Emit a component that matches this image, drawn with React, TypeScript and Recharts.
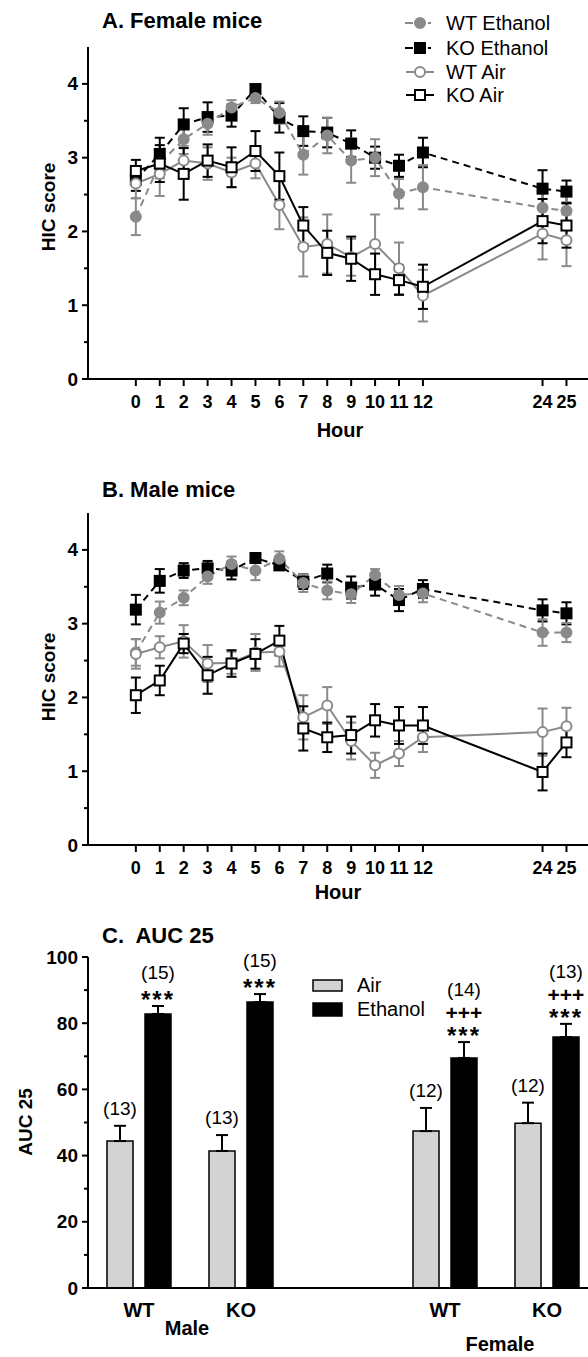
import React from "react";
import { Bar, BarChart, ErrorBar, LabelList, Line, LineChart, XAxis, YAxis } from "recharts";

const FONT = '"Liberation Sans", Arial, Helvetica, sans-serif';
const GRAY = "#8a8a8a";

// hours sampled
const hours = [0, 1, 2, 3, 4, 5, 6, 7, 8, 9, 10, 11, 12, 24, 25];

// A. Female mice
const femWtEth = [2.2, 2.92, 3.25, 3.46, 3.68, 3.81, 3.61, 3.04, 3.3, 2.96, 3.0, 2.51, 2.6, 2.32, 2.28];
const femWtEthErr = [0.25, 0.2, 0.2, 0.15, 0.1, 0.07, 0.15, 0.27, 0.24, 0.3, 0.25, 0.2, 0.3, 0.2, 0.2];
const femKoEth = [2.7, 3.05, 3.45, 3.55, 3.57, 3.93, 3.54, 3.36, 3.34, 3.19, 3.0, 2.89, 3.07, 2.58, 2.54];
const femKoEthErr = [0.15, 0.22, 0.22, 0.2, 0.15, 0.05, 0.2, 0.2, 0.2, 0.18, 0.15, 0.15, 0.2, 0.25, 0.15];
const femWtAir = [2.65, 2.78, 2.96, 2.92, 2.8, 2.92, 2.36, 1.79, 1.83, 1.65, 1.83, 1.5, 1.13, 1.97, 1.88];
const femWtAirErr = [0.2, 0.3, 0.2, 0.22, 0.2, 0.2, 0.33, 0.4, 0.4, 0.25, 0.4, 0.35, 0.35, 0.35, 0.35];
const femKoAir = [2.82, 2.92, 2.78, 2.96, 2.87, 3.09, 2.75, 2.08, 1.71, 1.63, 1.42, 1.34, 1.25, 2.14, 2.08];
const femKoAirErr = [0.15, 0.25, 0.35, 0.22, 0.27, 0.27, 0.32, 0.25, 0.3, 0.3, 0.28, 0.2, 0.3, 0.3, 0.3];

// B. Male mice
const maleWtEth = [2.61, 3.15, 3.35, 3.64, 3.81, 3.72, 3.88, 3.55, 3.45, 3.4, 3.66, 3.39, 3.41, 2.88, 2.88];
const maleWtEthErr = [0.18, 0.15, 0.1, 0.1, 0.1, 0.13, 0.1, 0.12, 0.12, 0.12, 0.08, 0.12, 0.12, 0.18, 0.13];
const maleKoEth = [3.19, 3.58, 3.72, 3.75, 3.72, 3.89, 3.79, 3.57, 3.68, 3.49, 3.53, 3.32, 3.47, 3.18, 3.14];
const maleKoEthErr = [0.2, 0.16, 0.1, 0.1, 0.12, 0.05, 0.05, 0.1, 0.12, 0.15, 0.15, 0.15, 0.12, 0.15, 0.15];
const maleWtAir = [2.59, 2.68, 2.76, 2.46, 2.47, 2.61, 2.62, 1.73, 1.89, 1.41, 1.08, 1.24, 1.46, 1.53, 1.61];
const maleWtAirErr = [0.2, 0.15, 0.22, 0.25, 0.15, 0.25, 0.2, 0.3, 0.25, 0.25, 0.17, 0.17, 0.2, 0.32, 0.25];
const maleKoAir = [2.03, 2.23, 2.73, 2.3, 2.46, 2.59, 2.77, 1.58, 1.46, 1.49, 1.69, 1.62, 1.62, 0.99, 1.39];
const maleKoAirErr = [0.24, 0.2, 0.13, 0.25, 0.18, 0.2, 0.2, 0.3, 0.2, 0.25, 0.22, 0.25, 0.25, 0.25, 0.2];

const hicTicks = [0, 0.5, 1, 1.5, 2, 2.5, 3, 3.5, 4];

// C. AUC 25
const aucGroups = ["Male WT", "Male KO", "", "Female WT", "Female KO"];
const aucGenotype = ["WT", "KO", "", "WT", "KO"];
const aucAir = [44.4, 41.4, null, 47.4, 49.8];
const aucAirErr = [4.6, 4.8, null, 7.0, 6.2];
const aucEth = [82.8, 86.4, null, 69.5, 75.8];
const aucEthErr = [2.4, 2.4, null, 4.8, 4.0];
const nAir = [13, 13, null, 12, 12];
const nEth = [15, 15, null, 14, 13];
const sigEth = [["***"], ["***"], [], ["***", "+++"], ["***", "+++"]];
const aucTicks = [0, 10, 20, 30, 40, 50, 60, 70, 80, 90, 100];

// the axis is broken after 12 h, so 24 and 25 sit 5 slots past 12
const axisPos = (h: number) => (h <= 12 ? h : h - 7);
const hourTicks = hours.map(axisPos);

function hicRows(wtEth, wtEthErr, koEth, koEthErr, wtAir, wtAirErr, koAir, koAirErr) {
  return hours.map((h, i) => ({
    pos: axisPos(h),
    wtEth: wtEth[i],
    wtEthErr: wtEthErr[i],
    koEth: koEth[i],
    koEthErr: koEthErr[i],
    wtAir: wtAir[i],
    wtAirErr: wtAirErr[i],
    koAir: koAir[i],
    koAirErr: koAirErr[i],
  }));
}

const femaleData = hicRows(femWtEth, femWtEthErr, femKoEth, femKoEthErr, femWtAir, femWtAirErr, femKoAir, femKoAirErr);
const maleData = hicRows(maleWtEth, maleWtEthErr, maleKoEth, maleKoEthErr, maleWtAir, maleWtAirErr, maleKoAir, maleKoAirErr);

const aucData = aucGroups.map((g, i) => ({
  group: g,
  air: aucAir[i],
  airErr: aucAirErr[i] == null ? null : [0, aucAirErr[i]],
  eth: aucEth[i],
  ethErr: aucEthErr[i] == null ? null : [0, aucEthErr[i]],
}));

const axisLine = { stroke: "#000", strokeWidth: 2 };

function HourTick({ x, y, payload }: any) {
  const i = hourTicks.indexOf(payload.value);
  return (
    <g>
      <line x1={x} x2={x} y1={y} y2={y + 7} stroke="#000" strokeWidth={2} />
      <text x={x} y={y + 23} textAnchor="middle" dominantBaseline="central" fontFamily={FONT} fontWeight="bold" fontSize={18} fill="#000">
        {hours[i]}
      </text>
    </g>
  );
}

function ValueTick({ x, y, payload, major }: any) {
  const isMajor = payload.value % major === 0;
  return (
    <g>
      <line x1={x - (isMajor ? 6 : 4)} x2={x} y1={y} y2={y} stroke="#000" strokeWidth={2} />
      {isMajor ? (
        <text x={x - 10} y={y} textAnchor="end" dominantBaseline="central" fontFamily={FONT} fontWeight="bold" fontSize={19} fill="#000">
          {payload.value}
        </text>
      ) : null}
    </g>
  );
}

const Square = ({ cx, cy, fill }: any) =>
  cx == null ? null : <rect x={cx - 5} y={cy - 5} width={10} height={10} fill={fill} stroke="#000" strokeWidth={2} />;
const Circle = ({ cx, cy, fill, stroke }: any) =>
  cx == null ? null : <circle cx={cx} cy={cy} r={5} fill={fill} stroke={stroke} strokeWidth={2} />;

function HicPanel({ data, top }: { data: any[]; top: number }) {
  return (
    <div style={{ position: "absolute", left: 0, top }}>
      <LineChart width={588} height={445} data={data} margin={{ top: 47, right: 0, bottom: 0, left: 0 }}>
        <XAxis
          type="number"
          dataKey="pos"
          domain={[-2, 18.9]}
          ticks={hourTicks}
          interval={0}
          height={66}
          tickSize={0}
          tickMargin={0}
          tickLine={false}
          tick={<HourTick />}
          axisLine={axisLine}
          allowDataOverflow
        />
        <YAxis
          type="number"
          domain={[0, 4.5]}
          ticks={hicTicks}
          interval={0}
          width={88}
          tickSize={0}
          tickMargin={0}
          tickLine={false}
          tick={<ValueTick major={1} />}
          axisLine={axisLine}
          allowDataOverflow
        />
        <Line dataKey="koEth" stroke="#000" strokeWidth={2} strokeDasharray="7 5" dot={<Square fill="#000" />} isAnimationActive={false}>
          <ErrorBar dataKey="koEthErr" direction="y" width={5} stroke="#000" strokeWidth={2} />
        </Line>
        <Line dataKey="wtEth" stroke={GRAY} strokeWidth={2} strokeDasharray="7 5" dot={<Circle fill={GRAY} stroke={GRAY} />} isAnimationActive={false}>
          <ErrorBar dataKey="wtEthErr" direction="y" width={5} stroke={GRAY} strokeWidth={2} />
        </Line>
        <Line dataKey="wtAir" stroke={GRAY} strokeWidth={2} dot={<Circle fill="#fff" stroke={GRAY} />} isAnimationActive={false}>
          <ErrorBar dataKey="wtAirErr" direction="y" width={5} stroke={GRAY} strokeWidth={2} />
        </Line>
        <Line dataKey="koAir" stroke="#000" strokeWidth={2} dot={<Square fill="#fff" />} isAnimationActive={false}>
          <ErrorBar dataKey="koAirErr" direction="y" width={5} stroke="#000" strokeWidth={2} />
        </Line>
      </LineChart>
    </div>
  );
}

function GroupTick({ x, y, index }: any) {
  const sex = index === 0 ? { t: "Male", dx: 48, dy: 40 } : index === 3 ? { t: "Female", dx: 55, dy: 56 } : null;
  return (
    <g fontFamily={FONT} fontWeight="bold" fontSize={20} fill="#000">
      <text x={x} y={y + 22} textAnchor="middle" dominantBaseline="central">
        {aucGenotype[index]}
      </text>
      {sex ? (
        <text x={x + sex.dx} y={y + sex.dy} textAnchor="middle" dominantBaseline="central">
          {sex.t}
        </text>
      ) : null}
    </g>
  );
}

// labels are keyed by group name (LabelList skips the empty slot, so its index shifts)
function barNotes(values: (number | null)[], nList: (number | null)[], errList: (number | null)[], sigs: string[][] | null) {
  return function BarNote({ x, y, width, height, value }: any) {
    const i = aucGroups.indexOf(value);
    if (i < 0 || values[i] == null || nList[i] == null) return null;
    const cx = Number(x) + Number(width) / 2;
    const cap = Number(y) - (errList[i] as number) * (Number(height) / (values[i] as number));
    const symbols = sigs ? sigs[i] : [];
    const symY = symbols.map((_, k) => cap - 10 - 19 * k);
    const nY = symbols.length ? symY[symY.length - 1] - 23 : cap - 17;
    return (
      <g fontFamily={FONT} fill="#000">
        {symbols.map((s, k) => (
          <text
            key={k}
            x={cx}
            y={symY[k] + (s === "***" ? 12 : 7)}
            textAnchor="middle"
            fontWeight="bold"
            fontSize={s === "***" ? 24 : 21}
            letterSpacing={s === "***" ? 2 : 0}
          >
            {s}
          </text>
        ))}
        <text x={cx} y={nY + 6} textAnchor="middle" fontSize={19}>
          ({nList[i]})
        </text>
      </g>
    );
  };
}

function AucPanel() {
  return (
    <div style={{ position: "absolute", left: 0, top: 900 }}>
      <BarChart width={600} height={457} data={aucData} margin={{ top: 57, right: 2, bottom: 0, left: 0 }} barGap={12}>
        <XAxis dataKey="group" height={69} tickSize={0} tickMargin={0} tickLine={false} tick={<GroupTick />} axisLine={axisLine} interval={0} />
        <YAxis
          type="number"
          domain={[0, 100]}
          ticks={aucTicks}
          interval={0}
          width={88}
          tickSize={0}
          tickMargin={0}
          tickLine={false}
          tick={<ValueTick major={20} />}
          axisLine={axisLine}
        />
        <Bar dataKey="air" fill="#d3d3d3" stroke="#000" strokeWidth={1.5} barSize={26} isAnimationActive={false}>
          <ErrorBar dataKey="airErr" direction="y" width={6} stroke="#000" strokeWidth={2} />
          <LabelList dataKey="group" content={barNotes(aucAir, nAir, aucAirErr, null)} />
        </Bar>
        <Bar dataKey="eth" fill="#000" stroke="#000" strokeWidth={1.5} barSize={26} isAnimationActive={false}>
          <ErrorBar dataKey="ethErr" direction="y" width={6} stroke="#000" strokeWidth={2} />
          <LabelList dataKey="group" content={barNotes(aucEth, nEth, aucEthErr, sigEth)} />
        </Bar>
      </BarChart>
    </div>
  );
}

function LegendRow({ y, dashed, color, marker, label }: any) {
  return (
    <g>
      {dashed ? (
        <>
          <line x1={405} x2={413} y1={y} y2={y} stroke={color} strokeWidth={2} />
          <line x1={428} x2={431} y1={y} y2={y} stroke={color} strokeWidth={2} />
        </>
      ) : (
        <line x1={406} x2={434} y1={y} y2={y} stroke={color} strokeWidth={2} />
      )}
      {marker === "square" ? (
        <rect x={415} y={y - 5} width={10} height={10} fill={dashed ? "#000" : "#fff"} stroke="#000" strokeWidth={2} />
      ) : (
        <circle cx={420} cy={y} r={5} fill={dashed ? color : "#fff"} stroke={color} strokeWidth={2} />
      )}
      <text x={446} y={y} dominantBaseline="central" fontSize={20} fill="#000">
        {label}
      </text>
    </g>
  );
}

function Annotations() {
  const bold = { fontWeight: "bold" as const, fill: "#000" };
  return (
    <svg width={588} height={1357} style={{ position: "absolute", left: 0, top: 0, pointerEvents: "none" }} fontFamily={FONT}>
      <text x={102} y={20} dominantBaseline="central" fontSize={22} {...bold}>A. Female mice</text>
      <text x={102} y={489} dominantBaseline="central" fontSize={22} {...bold}>B. Male mice</text>
      <text x={102} y={935} dominantBaseline="central" fontSize={22} {...bold}>{"C.\u00a0 AUC 25"}</text>

      <text transform="translate(48,207) rotate(-90)" textAnchor="middle" dominantBaseline="central" fontSize={19} {...bold}>HIC score</text>
      <text transform="translate(48,677) rotate(-90)" textAnchor="middle" dominantBaseline="central" fontSize={19} {...bold}>HIC score</text>
      <text transform="translate(25,1122) rotate(-90)" textAnchor="middle" dominantBaseline="central" fontSize={19} {...bold}>AUC 25</text>
      <text x={340} y={430} textAnchor="middle" dominantBaseline="central" fontSize={20} {...bold}>Hour</text>
      <text x={338} y={892} textAnchor="middle" dominantBaseline="central" fontSize={20} {...bold}>Hour</text>

      <LegendRow y={23} dashed color={GRAY} marker="circle" label="WT Ethanol" />
      <LegendRow y={48} dashed color="#000" marker="square" label="KO Ethanol" />
      <LegendRow y={72} color={GRAY} marker="circle" label="WT Air" />
      <LegendRow y={95} color="#000" marker="square" label="KO Air" />

      <rect x={313} y={980} width={29} height={11} fill="#d3d3d3" stroke="#000" strokeWidth={1.5} />
      <text x={357} y={985} dominantBaseline="central" fontSize={20} fill="#000">Air</text>
      <rect x={313} y={1003} width={29} height={13} fill="#000" stroke="#000" strokeWidth={1.5} />
      <text x={357} y={1009} dominantBaseline="central" fontSize={20} fill="#000">Ethanol</text>
    </svg>
  );
}

export default function App() {
  return (
    <div style={{ position: "relative", width: 588, height: 1357, overflow: "hidden", background: "#fff", fontFamily: FONT }}>
      <style>{"body{margin:0;overflow:hidden}"}</style>
      <HicPanel data={femaleData} top={0} />
      <HicPanel data={maleData} top={466} />
      <AucPanel />
      <Annotations />
    </div>
  );
}
